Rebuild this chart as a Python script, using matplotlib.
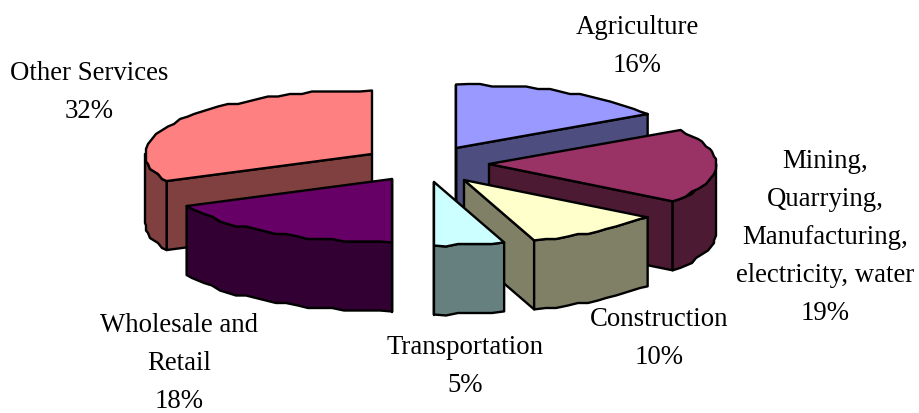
import numpy as np
import matplotlib
matplotlib.use("Agg")
import matplotlib.pyplot as plt
from matplotlib.patches import Polygon

names = ["Agriculture", "Mining,\nQuarrying,\nManufacturing,\nelectricity, water",
         "Construction", "Transportation", "Wholesale and\nRetail", "Other Services"]
shares = [16, 19, 10, 5, 18, 32]
top_colors = ["#9999FF", "#993366", "#FFFFCC", "#CCFFFF", "#660066", "#FF8080"]
side_colors = ["#4D4D80", "#4D1A33", "#808066", "#668080", "#330033", "#804040"]

# apex of each exploded slice, in pixels
apex = [(456, 149), (489, 165), (464, 181), (434, 183), (392, 180), (372, 155)]
# centre of each label block, in pixels
label_pos = [(637, 45), (825, 236), (659, 337), (465, 365), (179, 362), (89, 91)]
draw_order = [0, 5, 1, 4, 2, 3]

RX = 227
RY = 63.5
DEPTH = 69
LW = 1.7
LINE_H = 38

plt.rcParams["font.family"] = ["Liberation Serif", "DejaVu Serif"]

fig = plt.figure(figsize=(9.2, 4.14), dpi=100)
ax = fig.add_axes([0, 0, 1, 1])
ax.set_xlim(0, 920)
ax.set_ylim(414, 0)
ax.axis("off")


def arc_points(cx, cy, a0, a1, dy=0):
    # clock angles in degrees, the coarse rounding gives the rough printed outline
    n = max(int(abs(a1 - a0) / 3), 1)
    ang = np.radians(np.linspace(a0, a1, n + 1))
    x = cx + RX * np.sin(ang)
    y = cy - RY * np.cos(ang)
    x[1:-1] = np.round(x[1:-1] / 2) * 2
    y[1:-1] = np.round(y[1:-1] / 2.5) * 2.5
    return np.column_stack([x, y + dy])


def add_poly(pts, color, z):
    ax.add_patch(Polygon(pts, closed=True, facecolor=color, edgecolor="black",
                         linewidth=LW, joinstyle="round", zorder=z))


def radial_face(cx, cy, a, color, z):
    ex = cx + RX * np.sin(np.radians(a))
    ey = cy - RY * np.cos(np.radians(a))
    add_poly([(cx, cy), (ex, ey), (ex, ey + DEPTH), (cx, cy + DEPTH)], color, z)


edges = np.cumsum([0] + shares) * 360.0 / sum(shares)

for z, i in enumerate(draw_order):
    cx, cy = apex[i]
    a0, a1 = edges[i], edges[i + 1]
    base = z * 10

    # start edge faces the viewer only on the left half, end edge on the right
    if np.sin(np.radians(a0)) < -1e-6:
        radial_face(cx, cy, a0, side_colors[i], base + 1)
    if np.sin(np.radians(a1)) > 1e-6:
        radial_face(cx, cy, a1, side_colors[i], base + 1)
    if a0 == 180 or a1 == 180 or a0 == 0:
        radial_face(cx, cy, a0 if a0 in (0, 180) else a1, side_colors[i], base + 1)

    # outer wall, front part of the rim only
    w0, w1 = max(a0, 90), min(a1, 270)
    if w1 > w0:
        upper = arc_points(cx, cy, w0, w1)
        lower = upper[::-1] + [0, DEPTH]
        add_poly(np.vstack([upper, lower]), side_colors[i], base + 2)

    top = np.vstack([[(cx, cy)], arc_points(cx, cy, a0, a1)])
    add_poly(top, top_colors[i], base + 3)

for name, share, (x, y) in zip(names, shares, label_pos):
    lines = name.split("\n") + [f"{share}%"]
    y0 = y - LINE_H * (len(lines) - 1) / 2
    for k, line in enumerate(lines):
        ax.text(x, y0 + k * LINE_H + 8, line, ha="center", va="baseline",
                fontsize=19.3, color="black", zorder=200)

fig.savefig("out.png", dpi=100)
